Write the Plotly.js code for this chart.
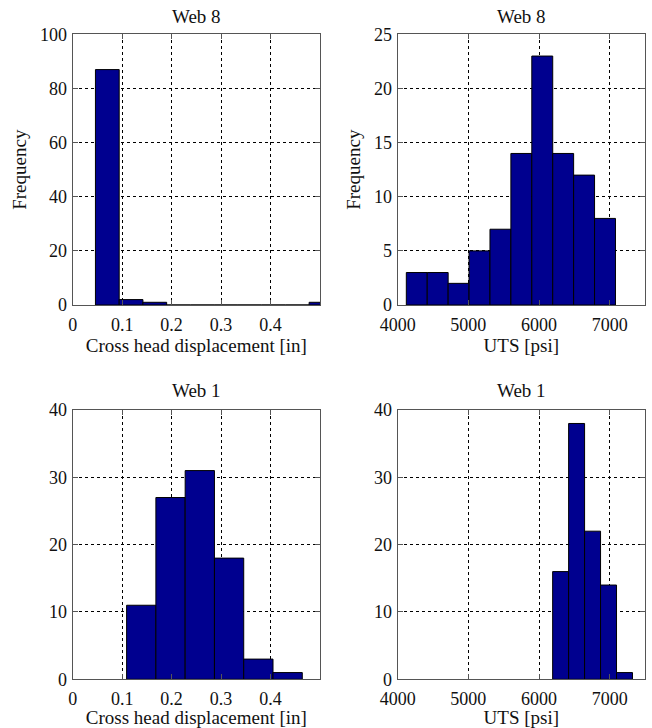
<!DOCTYPE html>
<html>
<head>
<meta charset="utf-8">
<script src="https://cdn.plot.ly/plotly-3.0.1.min.js"></script>
<style>
  html, body { margin: 0; padding: 0; background: #fff; }
  #chart { width: 652px; height: 728px; }
</style>
</head>
<body>
<div id="chart"></div>
<script>
// ---- Data ----
// Web 8, cross head displacement [in]
const web8DispCenters = [0.070, 0.118, 0.166, 0.214, 0.262, 0.310, 0.358, 0.406, 0.454, 0.502];
const web8DispCounts  = [87, 2, 1, 0, 0, 0, 0, 0, 0, 1];
// Web 8, UTS [psi]
const web8UtsCenters = [4270, 4566, 4862, 5158, 5454, 5750, 6046, 6342, 6638, 6934];
const web8UtsCounts  = [3, 3, 2, 5, 7, 14, 23, 14, 12, 8];
// Web 1, cross head displacement [in]
const web1DispCenters = [0.1386, 0.1978, 0.2570, 0.3162, 0.3754, 0.4346];
const web1DispCounts  = [11, 27, 31, 18, 3, 1];
// Web 1, UTS [psi]
const web1UtsCenters = [6306, 6532, 6758, 6984, 7210];
const web1UtsCounts  = [16, 38, 22, 14, 1];

const dispTicks = [0, 0.1, 0.2, 0.3, 0.4];
const dispTickText = ['0', '0.1', '0.2', '0.3', '0.4'];
const utsTicks = [4000, 5000, 6000, 7000];

const titles = ['Web 8', 'Web 8', 'Web 1', 'Web 1'];
const xTitles = ['Cross head displacement [in]', 'UTS [psi]', 'Cross head displacement [in]', 'UTS [psi]'];
const yTitle = 'Frequency';

// ---- Styling ----
const W = 652, H = 728;
const FONT = '"Liberation Serif", "DejaVu Serif", serif';
const barColor = '#00008F';

function widthOf(c) { return c[1] - c[0]; }

function barTrace(centers, counts, xa, ya) {
  return {
    type: 'bar', x: centers, y: counts, xaxis: xa, yaxis: ya,
    width: widthOf(centers),
    marker: { color: barColor, line: { color: '#000', width: 1 } },
    hoverinfo: 'x+y', showlegend: false
  };
}

const data = [
  barTrace(web8DispCenters, web8DispCounts, 'x', 'y'),
  barTrace(web8UtsCenters, web8UtsCounts, 'x2', 'y2'),
  barTrace(web1DispCenters, web1DispCounts, 'x3', 'y3'),
  barTrace(web1UtsCenters, web1UtsCounts, 'x4', 'y4')
];

// pixel boxes -> paper domains
const colL = [72.7, 320], colR = [397.7, 645];
const rowT = [34.4, 305], rowB = [410, 679.3];
const dx = p => [p[0] / W, p[1] / W];
const dy = p => [1 - p[1] / H, 1 - p[0] / H];

const axCommon = {
  showline: true, mirror: 'ticks', linecolor: '#555', linewidth: 1,
  ticks: 'inside', ticklen: 5, tickcolor: '#555',
  showgrid: true, gridcolor: '#000', gridwidth: 1, griddash: '3px,3px',
  zeroline: false, tickfont: { family: FONT, size: 18, color: '#111' },
  fixedrange: true
};

function xAxis(domain, range, tickvals, ticktext, anchor, title) {
  const a = Object.assign({}, axCommon, {
    domain: dx(domain), range: range, tickvals: tickvals, anchor: anchor,
    ticklabelstandoff: 3,
    title: { text: title, font: { family: FONT, size: 19, color: '#111' }, standoff: 0 }
  });
  if (ticktext) a.ticktext = ticktext;
  return a;
}
function yAxis(domain, range, dtick, anchor, title) {
  const a = Object.assign({}, axCommon, {
    domain: dy(domain), range: range, dtick: dtick, tick0: 0, anchor: anchor,
    ticklabelstandoff: 1
  });
  if (title) a.title = { text: title, font: { family: FONT, size: 19, color: '#111' }, standoff: 8 };
  return a;
}

const annotations = [
  { text: titles[0], x: (colL[0] + colL[1]) / 2 / W, y: 1 - 16 / H },
  { text: titles[1], x: (colR[0] + colR[1]) / 2 / W, y: 1 - 16 / H },
  { text: titles[2], x: (colL[0] + colL[1]) / 2 / W, y: 1 - 390 / H },
  { text: titles[3], x: (colR[0] + colR[1]) / 2 / W, y: 1 - 390 / H }
].map(a => Object.assign(a, {
  xref: 'paper', yref: 'paper', showarrow: false, xanchor: 'center', yanchor: 'middle',
  font: { family: FONT, size: 19, color: '#111' }
}));

const layout = {
  width: W, height: H,
  margin: { l: 0, r: 0, t: 0, b: 0 },
  paper_bgcolor: '#fff', plot_bgcolor: '#fff',
  bargap: 0, showlegend: false,
  font: { family: FONT, color: '#111' },
  xaxis:  xAxis(colL, [0, 0.5], dispTicks, dispTickText, 'y', xTitles[0]),
  yaxis:  yAxis(rowT, [0, 100], 20, 'x', yTitle),
  xaxis2: xAxis(colR, [4000, 7500], utsTicks, null, 'y2', xTitles[1]),
  yaxis2: yAxis(rowT, [0, 25], 5, 'x2', yTitle),
  xaxis3: xAxis(colL, [0, 0.5], dispTicks, dispTickText, 'y3', xTitles[2]),
  yaxis3: yAxis(rowB, [0, 40], 10, 'x3', null),
  xaxis4: xAxis(colR, [4000, 7500], utsTicks, null, 'y4', xTitles[3]),
  yaxis4: yAxis(rowB, [0, 40], 10, 'x4', null),
  annotations: annotations
};

Plotly.newPlot('chart', data, layout, { displayModeBar: false, staticPlot: true });
</script>
</body>
</html>
